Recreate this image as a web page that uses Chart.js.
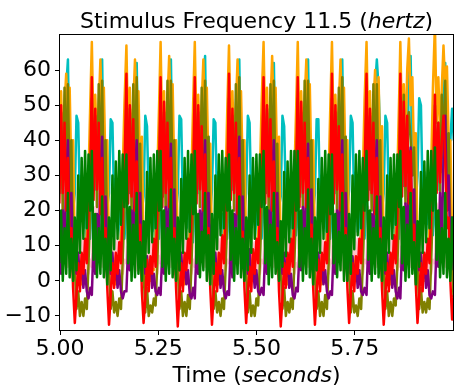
<!DOCTYPE html>
<html>
<head>
<meta charset="utf-8">
<script src="https://cdn.jsdelivr.net/npm/chart.js@4.4.1/dist/chart.umd.min.js"></script>
<style>
  html, body { margin:0; padding:0; background:#fff; }
  #plot { display:block; }
</style>
</head>
<body>
<canvas id="plot" width="454" height="389"></canvas>
<script>
/* ---- Data ---- */
// times of the tall orange spike in each cycle (s)
const cycleStarts = [4.994, 5.081, 5.169, 5.256, 5.343, 5.430, 5.518, 5.605, 5.692, 5.780, 5.866, 5.954];
// sample offsets inside one cycle (s)
const phaseOffsets = [0, 0.0044, 0.0087, 0.0131, 0.0175, 0.0218, 0.0262, 0.0306, 0.0349, 0.0393,
                      0.0437, 0.0480, 0.0524, 0.0567, 0.0611, 0.0655, 0.0698, 0.0742, 0.0786, 0.0829];

const xTicks = [5.00, 5.25, 5.50, 5.75];
const yTicks = [-10, 0, 10, 20, 30, 40, 50, 60];

// one row = one cycle
const orange = [
  68,40,54,37,50,59,45,55,30,40,8,15,2,10,-1,8,3,14,30,50,
  68,41,53,38,49,63,44,55,31,40,7,15,2,11,-1,8,4,14,31,50,
  67,40,55,36,50,63,46,54,30,41,8,14,3,10,0,9,3,13,30,49,
  68,39,54,37,51,64,45,56,29,40,8,16,2,10,-1,8,3,15,30,51,
  68,40,53,38,50,63,44,55,30,39,9,15,1,11,-1,7,3,14,29,50,
  67,41,54,37,49,63,45,54,31,40,8,15,2,10,0,8,4,14,30,50,
  68,40,55,36,50,64,46,55,30,41,7,14,2,10,-1,9,3,13,31,49,
  68,39,54,37,51,63,45,56,30,40,8,15,3,11,-1,8,3,14,30,50,
  68,40,53,38,50,63,44,55,29,40,8,16,2,10,0,8,3,15,30,51,
  68,41,54,37,50,60,46,58,32,44,9,15,2,10,-1,8,4,14,31,52,
  68,42,56,40,60,69,50,58,34,42,10,16,3,11,0,9,4,16,33,55,
  73,45,58,42,55,67,55,61,40,40,12,18,4,12,1,9,4,14,30,50
];
const red = [
  58,22,50,25,45,20,35,10,15,-2,-12,-4,5,-3,8,2,12,5,20,30,
  58,23,49,26,45,19,35,11,15,-2,-12.5,-4,5,-2,8,2,11,5,21,30,
  59,22,50,24,46,20,34,10,16,-3,-12,-5,6,-3,7,2,12,4,20,31,
  58,21,51,25,45,21,35,10,15,-2,-13,-4,5,-3,8,3,12,5,19,30,
  58,22,50,26,44,20,36,9,15,-2,-12.5,-4,5,-3,8,2,13,5,20,29,
  59,23,49,25,45,19,35,10,14,-2,-12,-4,4,-3,9,2,12,5,21,30,
  58,22,50,24,46,20,34,11,15,-3,-13,-5,5,-2,8,2,12,4,20,31,
  58,21,51,25,45,21,35,10,16,-2,-12.5,-4,6,-3,8,3,11,5,20,30,
  59,22,50,26,44,20,36,10,15,-2,-12,-4,5,-3,7,2,12,5,19,30,
  59,23,49,25,45,19,35,9,15,-2,-12.5,-4,5,-3,8,2,13,5,20,31,
  59,24,51,27,47,22,37,11,16,-1,-12,-4,5,-3,8,2,12,5,21,28,
  53,25,45,28,40,47,35,15,18,0,-11,-4,5,-3,8,2,12,5,20,30
];
const olive = [
  53,25,48,20,55,30,56,25,40,10,4,-8,-3,-10,-6,-10,-5,-8,5,20,
  52,26,47,21,56,29,57,24,40,11,4,-8,-3,-9,-6,-10,-5,-8,6,20,
  52,25,49,20,56,31,58,25,39,10,3,-9,-2,-10,-7,-9,-5,-7,5,21,
  53,24,48,19,57,30,57,26,40,10,4,-8,-3,-10,-6,-10,-4,-8,5,20,
  52,25,48,21,55,30,57,25,41,9,5,-8,-3,-9,-6,-10,-5,-8,4,19,
  52,26,47,20,56,29,58,24,40,10,4,-9,-3,-10,-7,-10,-5,-7,5,20,
  53,25,49,20,56,31,57,25,39,11,4,-8,-2,-10,-6,-9,-5,-8,6,21,
  52,24,48,21,57,30,57,26,40,10,3,-8,-3,-10,-6,-10,-4,-8,5,20,
  52,25,48,19,55,30,58,25,41,10,4,-9,-3,-9,-7,-10,-5,-8,5,20,
  53,26,47,20,56,29,56,24,40,10,4,-8,-3,-10,-6,-10,-5,-7,5,19,
  52,27,53,22,45,48,40,30,38,12,5,-8,-2,-9,-6,-9,-5,-8,6,22,
  50,28,45,25,53,35,57,28,42,12,6,-7,-2,-9,-6,-9,-5,-8,5,20
];
const cyan = [
  20,35,25,42,30,55,63,30,40,20,25,47,45,22,30,15,20,10,15,12,
  21,34,26,42,31,55,63,29,40,21,25,46,45,22,29,15,20,11,15,12,
  20,35,25,41,30,56,62,30,39,20,24,47,44,23,30,14,21,10,14,12,
  19,36,24,42,30,55,63,31,40,20,25,47,46,22,30,15,20,10,15,11,
  20,35,25,43,29,54,64,30,41,19,26,46,45,21,31,15,19,10,16,12,
  21,34,26,42,30,55,63,29,40,20,25,47,45,22,30,16,20,11,15,12,
  20,35,25,41,31,56,62,30,39,21,24,47,44,23,29,15,21,10,15,13,
  19,36,24,42,30,55,63,31,40,20,25,46,46,22,30,15,20,10,14,12,
  20,35,25,43,29,54,63,30,41,20,26,47,45,21,31,14,20,11,15,12,
  21,34,26,42,30,55,63,55,40,20,25,47,45,22,30,15,20,10,15,12,
  20,36,27,44,32,58,64,32,42,22,30,52,50,24,31,16,21,11,16,13,
  20,35,26,43,31,55,62,30,41,40,49,40,30,22,30,15,20,10,15,12
];
const purple = [
  -4,10,2,20,8,30,40,12,25,5,15,2,8,0,5,-2,3,-3,-5,-2,
  -4,11,2,19,8,31,41,12,24,5,15,2,8,0,4,-2,3,-3,-5,-3,
  -3,10,3,20,9,30,40,11,25,6,14,2,7,1,5,-2,2,-3,-4,-2,
  -4,9,2,21,8,29,39,12,26,5,15,3,8,0,5,-1,3,-4,-5,-2,
  -5,10,2,20,7,30,40,13,25,5,16,2,8,0,5,-2,3,-3,-5,-3,
  -4,11,1,19,8,31,41,12,24,4,15,2,9,0,4,-2,3,-3,-4,-2,
  -4,10,2,20,9,30,40,11,25,5,14,2,8,1,5,-2,2,-4,-5,-2,
  -3,9,3,21,8,29,39,12,26,5,15,3,8,0,5,-1,3,-3,-5,-3,
  -4,10,2,20,8,30,40,13,25,6,15,2,7,0,5,-2,3,-3,-4,-2,
  -4,11,2,19,8,31,40,12,24,5,15,2,8,0,4,-2,3,-3,-5,-2,
  -5,10,3,22,9,32,38,14,26,6,16,3,8,0,5,-2,3,-4,-5,-3,
  -4,12,4,25,10,35,47,20,30,8,18,3,9,1,5,-2,3,-3,-5,-2
];
const green = [
  37,5,20,0,15,2,25,1,12,0,18,3,30,8,35,12,37,15,36,20,
  37,6,19,1,15,2,24,1,12,-1,18,3,30,9,34,12,37,16,36,21,
  36,5,21,0,16,1,25,2,11,0,17,4,31,8,35,11,36,15,37,20,
  37,4,20,0,15,2,26,1,12,0,18,3,29,8,35,12,37,14,36,19,
  37,5,19,1,14,3,25,0,13,-1,19,2,30,9,36,13,37,15,35,20,
  36,6,20,0,15,2,24,1,12,0,18,3,30,8,35,12,36,16,36,21,
  37,5,21,-1,16,1,25,2,11,0,17,4,31,7,34,11,37,15,37,20,
  37,4,20,0,15,2,26,1,12,-1,18,3,29,8,35,12,37,14,36,19,
  36,5,19,1,14,3,25,0,13,0,19,2,30,9,36,13,37,15,35,20,
  37,6,20,0,15,2,24,1,12,0,18,3,30,8,35,12,36,16,36,21,
  37,5,21,0,16,1,25,2,11,-1,17,4,31,8,34,11,37,15,37,20,
  38,6,20,1,15,2,25,1,12,0,18,3,30,8,35,12,37,15,36,20
];
const pink = [
  5,20,8,26,10,15,4,12,3,8,2,10,5,14,6,12,3,8,2,6,
  4,21,8,25,10,16,4,12,3,9,2,10,5,13,6,12,3,8,2,6,
  5,20,9,26,11,15,3,13,3,8,2,11,5,14,5,12,4,8,2,7,
  5,19,8,27,10,15,4,12,2,8,3,10,6,14,6,13,3,7,2,6,
  4,20,7,26,10,14,4,12,3,8,2,10,5,15,6,12,3,8,3,6,
  5,21,8,25,9,15,5,12,3,9,2,9,5,14,6,11,3,8,2,6,
  5,20,8,26,10,16,4,11,3,8,2,10,4,14,7,12,3,9,2,5,
  4,19,9,27,10,15,4,12,4,8,2,10,5,13,6,12,2,8,2,6,
  5,20,8,26,11,15,3,12,3,8,3,11,5,14,6,12,3,8,2,6,
  5,21,8,25,10,14,4,13,3,9,2,10,5,14,5,12,3,8,3,6,
  4,20,8,26,10,15,4,12,3,8,2,10,6,15,6,12,3,7,2,6,
  5,22,9,28,11,16,4,12,3,8,2,10,5,14,6,12,3,8,2,6
];

/* ---- Helpers ---- */
const FONT = '"DejaVu Sans", sans-serif';
const times = [];
cycleStarts.forEach(t0 => phaseOffsets.forEach(dt => times.push(+(t0 + dt).toFixed(4))));
const pts = (vals) => vals.map((v, i) => ({ x: times[i], y: v }));
const minus = (v) => (v < 0 ? '\u2212' + Math.abs(v) : String(v));

// first dataset is drawn on top
const series = [
  { vals: green,  color: '#008000' },
  { vals: red,    color: '#ff0000' },
  { vals: purple, color: '#800080' },
  { vals: olive,  color: '#808000' },
  { vals: pink,   color: '#ffc0cb' },
  { vals: orange, color: '#ffa500' },
  { vals: cyan,   color: '#00bfbf' }
];

/* ---- Title / axis label with italic part, frame ---- */
function mixedText(ctx, parts, cx, y) {
  let w = 0;
  parts.forEach(p => { ctx.font = (p.it ? 'italic ' : '') + '22px ' + FONT; p.w = ctx.measureText(p.s).width; w += p.w; });
  let x = cx - w / 2;
  parts.forEach(p => { ctx.font = (p.it ? 'italic ' : '') + '22px ' + FONT; ctx.fillText(p.s, x, y); x += p.w; });
}

const decor = {
  id: 'decor',
  afterDraw(chart) {
    const { ctx, chartArea: a } = chart;
    ctx.save();
    ctx.strokeStyle = '#000';
    ctx.lineWidth = 1;
    ctx.strokeRect(a.left - 0.5, a.top - 0.5, a.right - a.left + 1, a.bottom - a.top + 1);
    ctx.fillStyle = '#000';
    ctx.textAlign = 'left';
    ctx.textBaseline = 'alphabetic';
    const cx = (a.left + a.right) / 2;
    mixedText(ctx, [{ s: 'Stimulus Frequency 11.5 (' }, { s: 'hertz', it: true }, { s: ')' }], cx, 28);
    mixedText(ctx, [{ s: 'Time (' }, { s: 'seconds', it: true }, { s: ')' }], cx, 382);
    ctx.restore();
  }
};

new Chart(document.getElementById('plot').getContext('2d'), {
  type: 'line',
  data: {
    datasets: series.map(s => ({
      data: pts(s.vals),
      borderColor: s.color,
      borderWidth: 2.5,
      pointRadius: 0,
      tension: 0,
      fill: false,
      clip: 0,
      borderJoinStyle: 'round'
    }))
  },
  options: {
    responsive: false,
    animation: false,
    events: [],
    layout: { padding: { top: 35, right: 1, left: 0, bottom: 0 } },
    plugins: { legend: { display: false }, title: { display: false }, tooltip: { enabled: false } },
    scales: {
      x: {
        type: 'linear', min: 5.0, max: 6.0,
        afterBuildTicks: (ax) => { ax.ticks = xTicks.map(v => ({ value: v })); },
        afterFit: (ax) => { ax.height = 59; },
        ticks: { color: '#000', font: { family: FONT, size: 22 }, padding: 1, maxRotation: 0, autoSkip: false,
                 callback: (v) => Number(v).toFixed(2) },
        grid: { drawOnChartArea: false, drawTicks: true, tickLength: 5, color: '#000', lineWidth: 1 },
        border: { display: false }
      },
      y: {
        type: 'linear', min: -14, max: 70,
        afterBuildTicks: (ax) => { ax.ticks = yTicks.map(v => ({ value: v })); },
        afterFit: (ax) => { ax.width = 60; },
        ticks: { color: '#000', font: { family: FONT, size: 22 }, padding: 4, autoSkip: false,
                 callback: (v) => minus(v) },
        grid: { drawOnChartArea: false, drawTicks: true, tickLength: 5, color: '#000', lineWidth: 1 },
        border: { display: false }
      }
    }
  },
  plugins: [decor]
});
</script>
</body>
</html>
